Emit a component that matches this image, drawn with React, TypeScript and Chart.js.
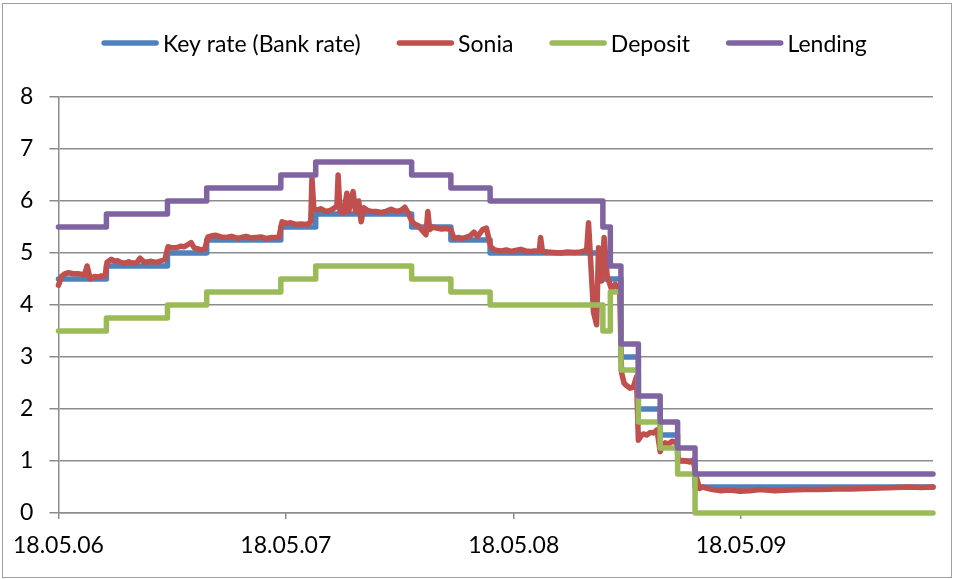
import React, { useEffect, useRef } from "react";
import { Chart, registerables } from "chart.js";

Chart.register(...registerables);

// ---- Data (x = days since 18.05.2006) ----
const seriesNames = ["Key rate (Bank rate)", "Sonia", "Deposit", "Lending"];
const seriesColors = ["#4F81BD", "#C0504D", "#9BBB59", "#8064A2"];

const changeDays = [0, 77, 175, 238, 357, 413, 567, 630, 693, 874, 886, 903, 931, 966, 994, 1022, 1404];
const bankRate = [4.5, 4.75, 5, 5.25, 5.5, 5.75, 5.5, 5.25, 5, 4.5, 4.5, 3, 2, 1.5, 1, 0.5, 0.5];
const depositRate = [3.5, 3.75, 4, 4.25, 4.5, 4.75, 4.5, 4.25, 4, 3.5, 4.25, 2.75, 1.75, 1.25, 0.75, 0, 0];
const lendingRate = [5.5, 5.75, 6, 6.25, 6.5, 6.75, 6.5, 6.25, 6, 5.5, 4.75, 3.25, 2.25, 1.75, 1.25, 0.75, 0.75];

const soniaDays = [
  0, 5, 10, 16, 24, 32, 42, 46, 51, 58, 64, 69, 75,
  78, 85, 90, 95, 100, 106, 113, 120, 126, 131, 138, 149, 157, 165, 171,
  176, 182, 189, 196, 202, 213, 218, 224, 229, 235,
  240, 246, 253, 261, 269, 278, 288, 294, 301, 309, 317, 325, 333, 343, 354,
  359, 366, 373, 381, 389, 399, 405, 407,
  410, 415, 421, 429, 437, 447, 449, 452, 458, 463, 466, 473, 477, 482, 486, 490, 496, 502, 510, 518, 526, 534, 542, 550, 556, 561,
  567, 572, 577, 585, 590, 593, 596, 601, 607, 615, 622, 630,
  635, 642, 648, 654, 661, 667, 673, 681, 687,
  694, 700, 705, 712, 719, 726, 734, 742, 750, 758, 765, 772, 774, 777, 785, 795, 806, 817, 828, 838, 848, 851, 859, 864, 867, 872,
  876, 881, 888, 894, 901,
  904, 908, 912, 918, 923, 928,
  931, 935, 939, 945, 950, 956, 961,
  966, 970, 974, 980, 985, 993,
  995, 1001, 1008, 1014, 1019,
  1024, 1029, 1035, 1040, 1050, 1062, 1078, 1094, 1110, 1126, 1150, 1174, 1198, 1223, 1247, 1271, 1295, 1319, 1343, 1367, 1385, 1404,
];
const soniaValues = [
  4.38, 4.55, 4.6, 4.62, 4.6, 4.6, 4.58, 4.75, 4.5, 4.55, 4.54, 4.56, 4.56,
  4.82, 4.88, 4.84, 4.85, 4.82, 4.8, 4.83, 4.8, 4.82, 4.9, 4.82, 4.84, 4.82, 4.85, 4.88,
  5.12, 5.1, 5.1, 5.13, 5.12, 5.2, 5.1, 5.08, 5.06, 5.08,
  5.31, 5.33, 5.34, 5.31, 5.3, 5.32, 5.28, 5.3, 5.32, 5.29, 5.3, 5.31, 5.28, 5.3, 5.3,
  5.6, 5.57, 5.58, 5.55, 5.56, 5.55, 5.6, 6.44,
  5.85, 5.83, 5.85, 5.8, 5.82, 5.9, 6.5, 5.8, 5.77, 6.15, 5.8, 6.18, 5.8, 6.0, 5.6, 5.87, 5.82, 5.8, 5.8, 5.78, 5.8, 5.84, 5.8, 5.82, 5.88, 5.78,
  5.62, 5.55, 5.53, 5.42, 5.35, 5.8, 5.45, 5.5, 5.48, 5.46, 5.47, 5.45,
  5.28, 5.3, 5.28, 5.3, 5.33, 5.4, 5.32, 5.45, 5.48,
  5.12, 5.06, 5.05, 5.04, 5.06, 5.03, 5.05, 5.07, 5.04, 5.03, 5.04, 5.05, 5.3, 5.03, 5.02, 5.01, 5.0, 5.02, 5.01, 5.02, 5.05, 5.58, 3.86, 3.62, 5.1, 4.46,
  5.3, 4.55, 4.3, 4.4, 4.3,
  2.7, 2.5, 2.45, 2.4, 2.42, 2.62,
  1.4, 1.48, 1.52, 1.5, 1.55, 1.54, 1.6,
  1.18, 1.3, 1.35, 1.33, 1.38, 1.35,
  0.99, 1.01, 1.0, 0.98, 1.02,
  0.7, 0.47, 0.5, 0.48, 0.45, 0.43, 0.44, 0.42, 0.43, 0.45, 0.43, 0.44, 0.45, 0.45, 0.46, 0.46, 0.47, 0.48, 0.49, 0.5, 0.49, 0.5,
];

const xTickDays = [0, 365, 731, 1096];
const xTickLabels = ["18.05.06", "18.05.07", "18.05.08", "18.05.09"];
const xMaxDay = 1404;
const yMin = 0;
const yMax = 8;
const yStep = 1;

const FONT_FAMILY = "Lato, 'Open Sans', sans-serif";
const GRID = "#8c8c8c";

const legendPlugin = {
  id: "excelLegend",
  afterDraw(chart: any) {
    const ctx = chart.ctx;
    ctx.save();
    ctx.font = `23px ${FONT_FAMILY}`;
    const lineLen = 52;
    const cap = 2.75;
    const gapText = 4;
    const gapItem = 36;
    const widths = seriesNames.map((n) => ctx.measureText(n).width);
    let total = 0;
    widths.forEach((w, i) => {
      total += cap * 2 + lineLen + gapText + w + (i < widths.length - 1 ? gapItem : 0);
    });
    let x = 484 - total / 2;
    const yLine = 43;
    const yText = 52;
    seriesNames.forEach((n, i) => {
      ctx.strokeStyle = seriesColors[i];
      ctx.lineWidth = 5.5;
      ctx.lineCap = "round";
      ctx.beginPath();
      ctx.moveTo(x + cap, yLine);
      ctx.lineTo(x + cap + lineLen, yLine);
      ctx.stroke();
      x += cap * 2 + lineLen + gapText;
      ctx.fillStyle = "#000";
      ctx.textBaseline = "alphabetic";
      ctx.textAlign = "left";
      ctx.fillText(n, x, yText);
      x += widths[i] + gapItem;
    });
    ctx.restore();
  },
};

export default function App() {
  const ref = useRef<HTMLCanvasElement | null>(null);

  useEffect(() => {
    if (!ref.current) return;
    const mk = (xs: number[], ys: number[]) => xs.map((x, i) => ({ x, y: ys[i] }));
    const chart = new Chart(ref.current, {
      type: "line",
      data: {
        datasets: [
          {
            label: seriesNames[0],
            data: mk(changeDays, bankRate),
            borderColor: seriesColors[0],
            stepped: "before",
            order: 4,
          },
          {
            label: seriesNames[1],
            data: mk(soniaDays, soniaValues),
            borderColor: seriesColors[1],
            order: 3,
          },
          {
            label: seriesNames[2],
            data: mk(changeDays, depositRate),
            borderColor: seriesColors[2],
            stepped: "before",
            order: 2,
          },
          {
            label: seriesNames[3],
            data: mk(changeDays, lendingRate),
            borderColor: seriesColors[3],
            stepped: "before",
            order: 1,
          },
        ] as any,
      },
      options: {
        animation: false,
        responsive: false,
        layout: { padding: { top: 97, right: 28, left: 0, bottom: 0 } },
        plugins: { legend: { display: false }, tooltip: { enabled: false }, title: { display: false } },
        elements: {
          point: { radius: 0 },
          line: { borderWidth: 5.5, borderCapStyle: "round", borderJoinStyle: "round", fill: false, tension: 0 },
        },
        datasets: { line: { clip: false } } as any,
        scales: {
          x: {
            type: "linear",
            min: 0,
            max: xMaxDay,
            afterBuildTicks: (s: any) => {
              s.ticks = xTickDays.map((v) => ({ value: v }));
            },
            afterFit: (s: any) => {
              s.height = 66;
            },
            ticks: {
              callback: (_v: any, i: number) => xTickLabels[i],
              font: { family: FONT_FAMILY, size: 23 },
              color: "#000",
              padding: 13,
              maxRotation: 0,
              autoSkip: false,
            },
            grid: { drawOnChartArea: false, drawTicks: true, tickLength: 6, color: GRID, lineWidth: 1.5 },
            border: { color: GRID, width: 1.5 },
          },
          y: {
            min: yMin,
            max: yMax,
            afterFit: (s: any) => {
              s.width = 57;
            },
            ticks: {
              stepSize: yStep,
              font: { family: FONT_FAMILY, size: 23 },
              color: "#000",
              padding: 16,
            },
            grid: { color: GRID, lineWidth: 1.5, tickLength: 9 },
            border: { color: GRID, width: 1.5 },
          },
        },
      } as any,
      plugins: [legendPlugin],
    });
    return () => chart.destroy();
  }, []);

  return (
    <div style={{ position: "absolute", left: 0, top: 0, width: 961, height: 579, background: "#fff" }}>
      <div
        style={{
          position: "absolute",
          left: 2,
          top: 3,
          width: 950,
          height: 575,
          border: "1.5px solid #a0a0a0",
          boxSizing: "border-box",
        }}
      />
      <canvas ref={ref} width={961} height={579} style={{ position: "absolute", left: 0, top: 0 }} />
    </div>
  );
}
